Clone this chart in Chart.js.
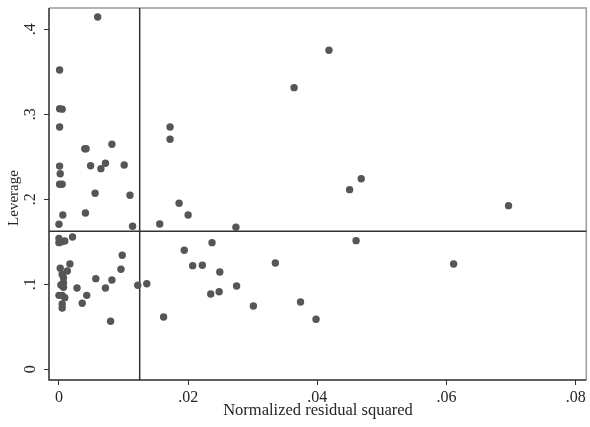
<!DOCTYPE html>
<html>
<head>
<meta charset="utf-8">
<script src="https://cdn.jsdelivr.net/npm/chart.js@4.4.1/dist/chart.umd.min.js"></script>
<style>
  html, body { margin: 0; padding: 0; background: #ffffff; }
  #wrap { width: 590px; height: 427px; }
</style>
</head>
<body>
<div id="wrap"><canvas id="c" width="590" height="427"></canvas></div>
<script>
// Leverage versus normalized residual squared, one point per observation
const residSq = [
  0.0060, 0.0001, 0.0001, 0.0005, 0.0001, 0.0040, 0.0042, 0.0082, 0.0001, 0.0002,
  0.0001, 0.0005, 0.0049, 0.0065, 0.0072, 0.0101, 0.0056, 0.0110, 0.0172, 0.0172,
  0.0364, 0.0418, 0.0450, 0.0468, 0.0006, 0.0041, 0.0000, 0.0114, 0.0156, 0.0186,
  0.0200, 0.0274, 0.0000, 0.0000, 0.0004, 0.0009, 0.0021, 0.0002, 0.0017, 0.0013,
  0.0005, 0.0007, 0.0007, 0.0003, 0.0007, 0.0000, 0.0005, 0.0009, 0.0005, 0.0005,
  0.0028, 0.0043, 0.0036, 0.0057, 0.0072, 0.0082, 0.0096, 0.0098, 0.0080, 0.0122,
  0.0136, 0.0162, 0.0194, 0.0207, 0.0222, 0.0237, 0.0249, 0.0235, 0.0248, 0.0275,
  0.0301, 0.0335, 0.0374, 0.0398, 0.0460, 0.0696, 0.0611
];
const leverage = [
  0.4145, 0.3520, 0.3066, 0.3060, 0.2850, 0.2595, 0.2595, 0.2647, 0.2390, 0.2300,
  0.2176, 0.2176, 0.2395, 0.2360, 0.2424, 0.2404, 0.2070, 0.2047, 0.2850, 0.2706,
  0.3313, 0.3753, 0.2113, 0.2242, 0.1815, 0.1839, 0.1706, 0.1682, 0.1709, 0.1953,
  0.1815, 0.1670, 0.1540, 0.1490, 0.1500, 0.1510, 0.1556, 0.1190, 0.1240, 0.1156,
  0.1118, 0.1078, 0.1019, 0.0992, 0.0965, 0.0870, 0.0870, 0.0843, 0.0768, 0.0721,
  0.0956, 0.0870, 0.0776, 0.1066, 0.0956, 0.1050, 0.1176, 0.1341, 0.0565, 0.0988,
  0.1007, 0.0615, 0.1400, 0.1219, 0.1224, 0.1490, 0.1145, 0.0886, 0.0913, 0.0980,
  0.0745, 0.1250, 0.0792, 0.0588, 0.1513, 0.1925, 0.1239
];
const xTicks = [0, 0.02, 0.04, 0.06, 0.08];
const yTicks = [0, 0.1, 0.2, 0.3, 0.4];
const meanResidSq = 0.0125;    // vertical reference line
const leverageCut = 0.1625;    // horizontal reference line
const xTitle = 'Normalized residual squared';
const yTitle = 'Leverage';

const FONT = '"Liberation Serif", "DejaVu Serif", serif';
const INK = '#262626';
const fmt = v => (v === 0 ? '0' : String(+v.toFixed(3)).replace(/^0/, ''));

const points = residSq.map((x, i) => ({ x, y: leverage[i] }));

const decor = {
  id: 'decor',
  beforeDatasetsDraw(chart) {
    const { ctx, chartArea: a, scales: { x, y } } = chart;
    ctx.save();
    // plot frame: light top/right, dark left/bottom
    ctx.lineWidth = 1.5;
    ctx.strokeStyle = '#9a9a9a';
    ctx.beginPath();
    ctx.moveTo(a.left, a.top); ctx.lineTo(a.right, a.top); ctx.lineTo(a.right, a.bottom);
    ctx.stroke();
    // reference lines
    ctx.strokeStyle = '#333333';
    ctx.lineWidth = 1.5;
    const vx = x.getPixelForValue(meanResidSq);
    const hy = y.getPixelForValue(leverageCut);
    ctx.beginPath();
    ctx.moveTo(vx, a.top); ctx.lineTo(vx, a.bottom);
    ctx.moveTo(a.left, hy); ctx.lineTo(a.right, hy);
    ctx.stroke();
    ctx.strokeStyle = '#2a2a2a';
    ctx.beginPath();
    ctx.moveTo(a.left, a.top); ctx.lineTo(a.left, a.bottom); ctx.lineTo(a.right, a.bottom);
    ctx.stroke();
    ctx.restore();
  },
  afterDraw(chart) {
    const { ctx, chartArea: a, scales: { x, y } } = chart;
    ctx.save();
    ctx.fillStyle = INK;
    ctx.font = '16px ' + FONT;
    ctx.textAlign = 'center';
    ctx.textBaseline = 'middle';
    // rotated y tick labels
    y.ticks.forEach(t => {
      const py = y.getPixelForValue(t.value);
      ctx.save();
      ctx.translate(31, py);
      ctx.rotate(-Math.PI / 2);
      ctx.fillText(fmt(t.value), 0, 0);
      ctx.restore();
    });
    // axis titles
    ctx.font = '16.5px ' + FONT;
    ctx.fillText(xTitle, 318, 411);
    ctx.font = '15px ' + FONT;
    ctx.save();
    ctx.translate(14, (a.top + a.bottom) / 2 + 4);
    ctx.rotate(-Math.PI / 2);
    ctx.fillText(yTitle, 0, 0);
    ctx.restore();
    ctx.restore();
  }
};

new Chart(document.getElementById('c'), {
  type: 'scatter',
  data: {
    datasets: [{
      data: points,
      pointRadius: 3.7,
      pointHoverRadius: 3.7,
      pointBackgroundColor: '#565656',
      pointBorderWidth: 0,
      showLine: false
    }]
  },
  options: {
    responsive: false,
    animation: false,
    events: [],
    layout: { padding: { top: 8, right: 2, left: 0, bottom: 0 } },
    plugins: { legend: { display: false }, tooltip: { enabled: false } },
    scales: {
      x: {
        type: 'linear',
        position: 'bottom',
        min: -0.00154,
        max: 0.08164,
        afterBuildTicks: s => { s.ticks = xTicks.map(value => ({ value })); },
        afterFit: s => { s.height = 47; },
        border: { display: false },
        grid: { drawOnChartArea: false, drawTicks: true, tickLength: 5, color: '#333333', lineWidth: 1 },
        ticks: {
          autoSkip: false, maxRotation: 0, padding: 3,
          color: INK, font: { family: FONT, size: 16 },
          callback: v => fmt(v)
        }
      },
      y: {
        type: 'linear',
        position: 'left',
        min: -0.0126,
        max: 0.425,
        afterBuildTicks: s => { s.ticks = yTicks.map(value => ({ value })); },
        afterFit: s => { s.width = 49; },
        border: { display: false },
        grid: { drawOnChartArea: false, drawTicks: true, tickLength: 5, color: '#333333', lineWidth: 1 },
        ticks: { display: false }
      }
    }
  },
  plugins: [decor]
});
</script>
</body>
</html>
